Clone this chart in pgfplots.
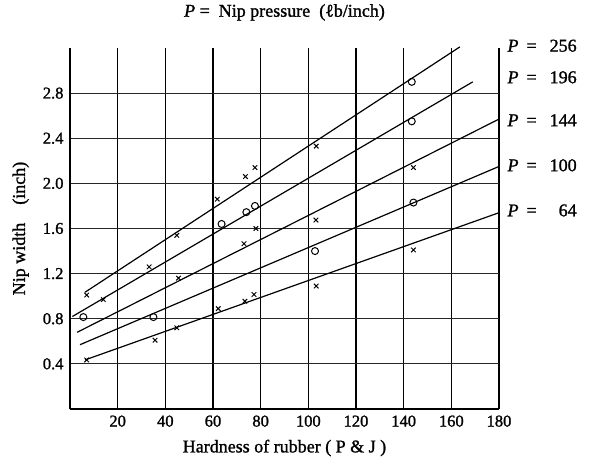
\documentclass[border=0pt]{standalone}
\usepackage{pgfplots}
\pgfplotsset{compat=1.18}
\usepackage{pgfplotstable}
\usepackage{fontspec}
\setmainfont{Liberation Serif}[BoldFont={Liberation Serif}, BoldItalicFont={Liberation Serif Italic}, BoldFeatures={FakeBold=1.3}, BoldItalicFeatures={FakeBold=1.3}]

% measured points: x = hardness (P&J), y = nip width (inch), m = marker
\pgfplotstableread{
x y m
7.0 1.01 x
44.8 1.54 x
61.8 1.86 x
73.6 2.06 x
77.6 2.14 x
103.3 2.33 x
143.4 2.90 o
}\pA
\pgfplotstableread{
x y m
5.6 0.815 o
14.0 0.97 x
33.2 1.26 x
63.6 1.64 o
74.0 1.745 o
77.6 1.80 o
143.4 2.55 o
}\pB
\pgfplotstableread{
x y m
45.5 1.16 x
73.0 1.465 x
78.0 1.60 x
103.2 1.675 x
144.1 2.14 x
}\pC
\pgfplotstableread{
x y m
35.0 0.815 o
102.8 1.40 o
144.1 1.83 o
}\pD
\pgfplotstableread{
x y m
7.0 0.435 x
35.7 0.61 x
44.8 0.72 x
62.2 0.89 x
73.4 0.955 x
77.2 1.015 x
103.3 1.09 x
144.1 1.41 x
}\pE

\newcommand{\plab}[1]{\textit{P}\hspace{8pt}=\makebox[40pt][r]{#1}}

\begin{document}
\bfseries\fontsize{16}{18}\selectfont
\begin{tikzpicture}
\begin{axis}[
  scale only axis, width=429pt, height=361pt,
  xmin=0, xmax=180, ymin=0, ymax=3.2,
  axis lines=left, axis line style={-, line width=1.3pt},
  xtick={20,40,60,80,100,120,140,160,180},
  ytick={0.4,0.8,1.2,1.6,2.0,2.4,2.8},
  yticklabels={0.4,0.8,1.2,1.6,2.0,2.4,2.8},
  major tick length=0pt,
  grid=major,
  x grid style={black, line width=1.6pt},
  y grid style={black!85, line width=1pt},
  tick label style={font=\bfseries\fontsize{16.5}{18}\selectfont},
  xticklabel style={yshift=-1pt},
  yticklabel style={xshift=-1pt},
  /pgf/number format/assume math mode=true,
  xlabel={Hardness of rubber\ ( P \& J )},
  xlabel style={at={(axis description cs:0.5,-0.108)}, anchor=center},
  ylabel={Nip width\quad(inch)},
  ylabel style={at={(axis description cs:-0.115,0.5)}, anchor=center},
  title={\textit{P} = \ Nip pressure\enspace(ℓb/inch)},
  title style={at={(axis description cs:0.5,1.082)}, anchor=center},
  label style={font=\bfseries\fontsize{18}{20}\selectfont},
  title style={font=\bfseries\fontsize{18}{20}\selectfont},
  clip=false,
  scatter/classes={
    x={mark=x, mark size=3.2pt, draw=black},
    o={mark=o, mark size=3.5pt, draw=black}},
]
\coordinate (bl) at (rel axis cs:0,0);

% fitted lines
\addplot[black, line width=1.2pt] coordinates {(6.3,1.035) (163.6,3.21)};
\addplot[black, line width=1.2pt] coordinates {(1,0.82) (169,2.90)};
\addplot[black, line width=1.2pt] coordinates {(3,0.68) (180,2.57)};
\addplot[black, line width=1.2pt] coordinates {(4.2,0.57) (180,2.15)};
\addplot[black, line width=1.2pt] coordinates {(6.3,0.435) (180,1.74)};

% measured points
\addplot[only marks, scatter, scatter src=explicit symbolic, mark options={line width=1pt}] table[meta=m] {\pA};
\addplot[only marks, scatter, scatter src=explicit symbolic, mark options={line width=1pt}] table[meta=m] {\pB};
\addplot[only marks, scatter, scatter src=explicit symbolic, mark options={line width=1pt}] table[meta=m] {\pC};
\addplot[only marks, scatter, scatter src=explicit symbolic, mark options={line width=1pt}] table[meta=m] {\pD};
\addplot[only marks, scatter, scatter src=explicit symbolic, mark options={line width=1pt}] table[meta=m] {\pE};

% line labels
\begin{scope}[every node/.style={anchor=west, xshift=3pt, font=\bfseries\fontsize{18}{20}\selectfont}]
\node at (axis cs:180,3.22) {\plab{256}};
\node at (axis cs:180,2.94) {\plab{196}};
\node at (axis cs:180,2.56) {\plab{144}};
\node at (axis cs:180,2.16) {\plab{100}};
\node at (axis cs:180,1.76) {\plab{64}};
\end{scope}
\end{axis}
\pgfresetboundingbox
\path[use as bounding box] (bl) ++(-70pt,-57pt) rectangle ++(589pt,466pt);
\end{tikzpicture}
\end{document}
